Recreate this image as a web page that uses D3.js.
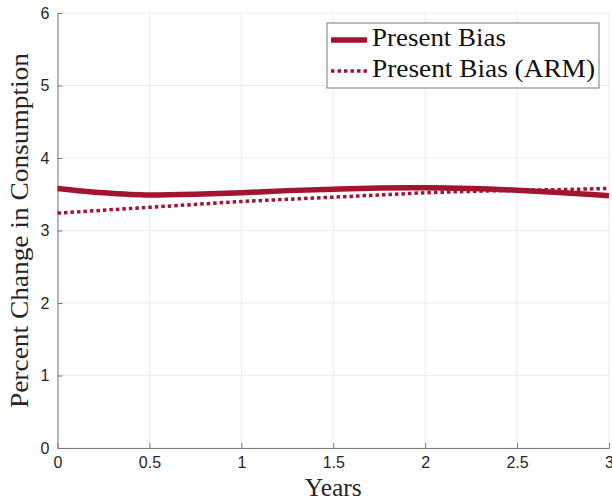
<!DOCTYPE html>
<html>
<head>
<meta charset="utf-8">
<script src="https://cdn.jsdelivr.net/npm/d3@7/dist/d3.min.js"></script>
<style>
html,body{margin:0;padding:0;background:#fff;}
svg{display:block;}
</style>
</head>
<body>
<svg id="chart" width="612" height="498"></svg>
<script>
const years = [0, 0.25, 0.5, 0.75, 1, 1.25, 1.5, 1.75, 2, 2.25, 2.5, 2.75, 3];
const presentBias = [3.58, 3.52, 3.49, 3.50, 3.52, 3.55, 3.57, 3.585, 3.59, 3.58, 3.555, 3.52, 3.48];
const presentBiasARM = [3.24, 3.28, 3.32, 3.36, 3.40, 3.43, 3.46, 3.49, 3.52, 3.54, 3.555, 3.565, 3.58];
const xTicks = [0, 0.5, 1, 1.5, 2, 2.5, 3];
const xTickLabels = ["0", "0.5", "1", "1.5", "2", "2.5", "3"];
const yTicks = [0, 1, 2, 3, 4, 5, 6];
const yTickLabels = ["0", "1", "2", "3", "4", "5", "6"];
const seriesNames = ["Present Bias", "Present Bias (ARM)"];

const color = "#A2142F";
const svg = d3.select("#chart");
const L = 57.5, R = 609, T = 13, B = 448;
const x = d3.scaleLinear().domain([0, 3]).range([L, R]);
const y = d3.scaleLinear().domain([0, 6]).range([B, T]);
const serif = "Liberation Serif, 'DejaVu Serif', serif";

// grid
svg.append("g").selectAll("line").data(xTicks).join("line")
  .attr("x1", d => x(d)).attr("x2", d => x(d)).attr("y1", T).attr("y2", B)
  .attr("stroke", "#ebebeb").attr("stroke-width", 1);
svg.append("g").selectAll("line").data(yTicks).join("line")
  .attr("x1", L).attr("x2", R).attr("y1", d => y(d)).attr("y2", d => y(d))
  .attr("stroke", "#ebebeb").attr("stroke-width", 1);

// axes
const xAxis = d3.axisBottom(x).tickValues(xTicks).tickFormat((d, i) => xTickLabels[i]).tickSizeInner(-5).tickSizeOuter(0).tickPadding(9);
const yAxis = d3.axisLeft(y).tickValues(yTicks).tickFormat((d, i) => yTickLabels[i]).tickSizeInner(-5).tickSizeOuter(0).tickPadding(8);
const gx = svg.append("g").attr("transform", `translate(0,${B})`).call(xAxis);
const gy = svg.append("g").attr("transform", `translate(${L},0)`).call(yAxis);
[gx, gy].forEach(g => {
  g.select(".domain").attr("stroke", "#7a7a7a");
  g.selectAll(".tick line").attr("stroke", "#7a7a7a");
  g.selectAll(".tick text").attr("fill", "#262626").style("font-family", "Liberation Sans, Arial, sans-serif").style("font-size", "16px");
});

// lines
const line = d3.line().x((d, i) => x(years[i])).y(d => y(d)).curve(d3.curveMonotoneX);
svg.append("path").datum(presentBiasARM).attr("d", line)
  .attr("fill", "none").attr("stroke", color).attr("stroke-width", 3.5).attr("stroke-dasharray", "3.5,3");
svg.append("path").datum(presentBias).attr("d", line)
  .attr("fill", "none").attr("stroke", color).attr("stroke-width", 5.5);

// axis labels
svg.append("text").attr("x", (L + R) / 2).attr("y", 496).attr("text-anchor", "middle")
  .style("font-family", serif).style("font-size", "25px").attr("fill", "#262626")
  .attr("textLength", 57).attr("lengthAdjust", "spacingAndGlyphs").text("Years");
svg.append("text").attr("transform", `translate(28,${(53 + 408) / 2}) rotate(-90)`).attr("text-anchor", "middle")
  .style("font-family", serif).style("font-size", "25px").attr("fill", "#262626")
  .attr("textLength", 355).attr("lengthAdjust", "spacingAndGlyphs").text("Percent Change in Consumption");

// legend
const lg = svg.append("g");
lg.append("rect").attr("x", 327).attr("y", 23).attr("width", 272).attr("height", 65)
  .attr("fill", "#fff").attr("stroke", "#7a7a7a").attr("stroke-width", 1);
const items = [{ w: 5.5, dash: null, y: 40, len: 134 }, { w: 3.5, dash: "3.5,3", y: 71, len: 223 }];
items.forEach((it, i) => {
  lg.append("line").attr("x1", 331).attr("x2", 367).attr("y1", it.y).attr("y2", it.y)
    .attr("stroke", color).attr("stroke-width", it.w).attr("stroke-dasharray", it.dash);
  lg.append("text").attr("x", 372).attr("y", it.y + 6)
    .style("font-family", serif).style("font-size", "25px").attr("fill", "#111")
    .attr("textLength", it.len).attr("lengthAdjust", "spacingAndGlyphs").text(seriesNames[i]);
});
</script>
</body>
</html>
